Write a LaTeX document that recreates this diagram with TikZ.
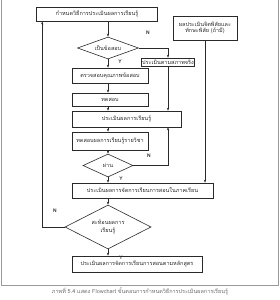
\documentclass[tikz,border=0pt]{standalone}
\usepackage{fontspec}
\newfontfamily\thaifont[Script=Thai]{Loma}
\usetikzlibrary{positioning, shapes.geometric, arrows.meta, calc}
\definecolor{inkgray}{HTML}{2A2A2A}
\definecolor{framegray}{HTML}{9A9A9A}
\definecolor{capgray}{HTML}{6A6A6A}

\begin{document}
\begin{tikzpicture}[x=1pt, y=-1pt,
    thai/.style={font=\thaifont\fontsize{5.5}{6.5}\selectfont, text=inkgray},
    procbox/.style={thai, draw=inkgray, line width=0.6pt, rectangle, inner sep=0.5pt, align=center},
    decide/.style={thai, draw=inkgray, line width=0.6pt, diamond, aspect=2, inner sep=0pt, align=center},
    flow/.style={draw=inkgray, line width=0.5pt, -{Stealth[length=3pt, width=2.2pt]}},
    yn/.style={thai, font=\thaifont\fontsize{5}{6}\selectfont\bfseries}]
  \useasboundingbox (0,0) rectangle (280,300);
  \draw[framegray, line width=0.5pt] (1,0) -- (1,285) -- (278,285) -- (278,0);

  % boxes and decisions
  \node[procbox, minimum width=121pt, minimum height=14pt] (plan) at (97,14) {กำหนดวิธีการประเมินผลการเรียนรู้};
  \node[procbox, minimum width=64pt, minimum height=24pt] (affect) at (205,28) {ผลประเมินจิตพิสัยและ\\ทักษะพิสัย (ถ้ามี)};
  \node[decide, minimum width=61pt, minimum height=22pt] (isexam) at (108,48) {เป็นข้อสอบ};
  \node[procbox, minimum width=52pt, minimum height=8pt] (authentic) at (168,62) {ประเมินตามสภาพจริง};
  \node[procbox, minimum width=76pt, minimum height=15pt] (checkq) at (110,75.5) {ตรวจสอบคุณภาพข้อสอบ};
  \node[procbox, minimum width=76pt, minimum height=13pt] (testing) at (110,99.5) {ทดสอบ};
  \node[procbox, minimum width=109pt, minimum height=16pt] (assess) at (126.5,119) {ประเมินผลการเรียนรู้};
  \node[procbox, minimum width=76pt, minimum height=18pt] (subject) at (110,141) {ทดสอบผลการเรียนรู้รายวิชา};
  \node[decide, minimum width=50pt, minimum height=23pt] (pass) at (108,165.5) {ผ่าน};
  \node[procbox, minimum width=141pt, minimum height=15pt] (term) at (142.5,190.5) {ประเมินผลการจัดการเรียนการสอนในภาคเรียน};
  \node[decide, minimum width=86pt, minimum height=44pt] (reflect) at (108,227) {สะท้อนผลการ\\[1pt]เรียนรู้};
  \node[procbox, minimum width=130pt, minimum height=16pt] (course) at (137,264) {ประเมินผลการจัดการเรียนการสอนตามหลักสูตร};

  % Y / N labels
  \node[yn] (n1) at (148,33) {N};
  \node[yn] (y1) at (120,62) {Y};
  \node[yn] (n2) at (149,156) {N};
  \node[yn] (y2) at (121,179) {Y};
  \node[yn] (n3) at (55,211) {N};
  \node[yn] (y3) at (121,258) {Y};

  % connectors
  \draw[flow] (isexam.north |- plan.south) -- (isexam.north);
  \draw[flow] (isexam.south) -- (isexam.south |- checkq.north);
  \draw[flow] (isexam.east) -| (authentic.north);
  \draw[flow] (authentic.south) -- (authentic.south |- assess.north);
  \draw[flow] (isexam.south |- checkq.south) -- (isexam.south |- testing.north);
  \draw[flow] (isexam.south |- testing.south) -- (isexam.south |- assess.north);
  \draw[flow] (isexam.south |- assess.south) -- (isexam.south |- subject.north);
  \draw[flow] (isexam.south |- subject.south) -- (pass.north);
  \draw[flow] (pass.east) -| (authentic.south |- assess.south);
  \draw[flow] (pass.south) -- (pass.south |- term.north);
  \draw[flow] (affect.south) -- (affect.south |- term.north);
  \draw[flow] (pass.south |- term.south) -- (reflect.north);
  \draw[flow] (reflect.south) -- (reflect.south |- course.north);
  \draw[flow] (reflect.west) -| ([xshift=6pt]plan.south west);

  \node[font=\thaifont\fontsize{5.5}{6}\selectfont, text=capgray] (caption) at (140,291) {ภาพที่ 5.4 แสดง Flowchart ขั้นตอนการกำหนดวิธีการประเมินผลการเรียนรู้};
\end{tikzpicture}
\end{document}
